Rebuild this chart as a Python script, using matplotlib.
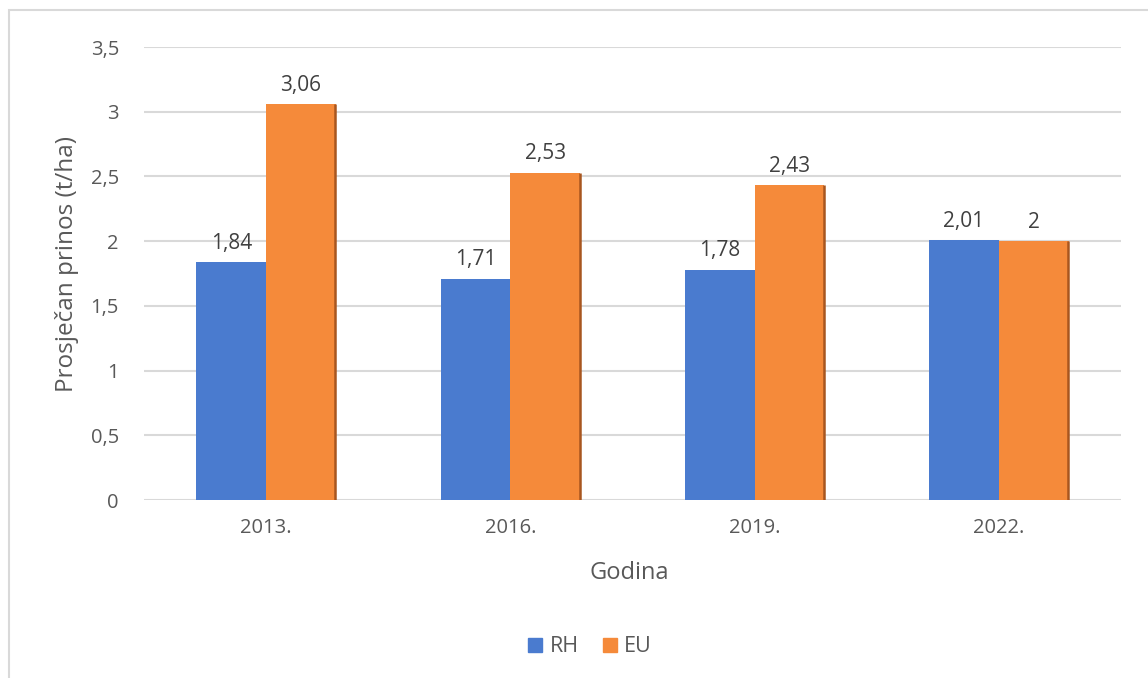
import numpy as np
import matplotlib.pyplot as plt
from matplotlib.patches import Rectangle

godine = ['2013.', '2016.', '2019.', '2022.']
rh = [1.84, 1.71, 1.78, 2.01]
eu = [3.06, 2.53, 2.43, 2.00]
oznake_rh = ['1,84', '1,71', '1,78', '2,01']
oznake_eu = ['3,06', '2,53', '2,43', '2']
yticks = [0, 0.5, 1, 1.5, 2, 2.5, 3, 3.5]
ytick_labels = ['0', '0,5', '1', '1,5', '2', '2,5', '3', '3,5']

plt.rcParams['font.family'] = ['Open Sans', 'DejaVu Sans']

fig = plt.figure(figsize=(11.48, 6.78), dpi=100)
W, H = 1148, 678

# okvir oko grafikona
fig.patches.append(Rectangle((9 / W, -0.1), 1.2, 1 - 10 / H + 0.1, transform=fig.transFigure,
                             fill=False, ec='#d9d9d9', lw=1.5))

ax = fig.add_axes((144 / W, 1 - 500 / H, (1121 - 144) / W, (500 - 47) / H))

c_rh = '#4a7bcf'
c_eu = '#f58a3a'
w = 1 / 3.5
x = np.arange(len(godine))

ax.bar(x - w / 2, rh, w, color=c_rh, zorder=3)
ax.bar(x + w / 2, eu, w, color=c_eu, zorder=3)
# sjena na desnom rubu stupca
ax.vlines(x + w - 0.002, 0, eu, color='#a8561f', lw=1.8, zorder=4)
ax.vlines(x - 0.002, 0, rh, color='#3d63a8', lw=1.0, zorder=2.9)

for i in range(len(godine)):
    ax.annotate(oznake_rh[i], (x[i] - w / 2, rh[i]), xytext=(0, 6), textcoords='offset points',
                ha='center', va='bottom', fontsize=15, color='#404040')
    ax.annotate(oznake_eu[i], (x[i] + w / 2, eu[i]), xytext=(0, 6), textcoords='offset points',
                ha='center', va='bottom', fontsize=15, color='#404040')

ax.set_xlim(-0.5, len(godine) - 0.5)
ax.set_ylim(0, 3.5)
ax.set_yticks(yticks)
ax.set_yticklabels(ytick_labels)
ax.set_xticks(x)
ax.set_xticklabels(godine)
ax.tick_params(axis='both', length=0, labelsize=14.5, labelcolor='#595959')
ax.tick_params(axis='y', pad=18)
ax.tick_params(axis='x', pad=13)
ax.grid(axis='y', color='#d9d9d9', lw=1.5, zorder=0)
for s in ax.spines.values():
    s.set_visible(False)

ax.set_xlabel('Godina', fontsize=17, color='#595959', va='center')
ax.xaxis.set_label_coords(0.497, -(573 - 500) / 453)
ax.set_ylabel('Prosječan prinos (t/ha)', fontsize=17.5, color='#595959', va='center')
ax.yaxis.set_label_coords(-(144 - 67) / 977, 0.52)

h1 = Rectangle((0, 0), 1, 1, color=c_rh)
h2 = Rectangle((0, 0), 1, 1, color=c_eu)
fig.legend([h1, h2], ['RH', 'EU'], loc='center', bbox_to_anchor=(590 / W, 1 - 647 / H),
           ncol=2, frameon=False, fontsize=15.5, handlelength=0.65, handleheight=0.65,
           handletextpad=0.35, columnspacing=1.1, labelcolor='#595959')

fig.savefig('out.png', dpi=100)
